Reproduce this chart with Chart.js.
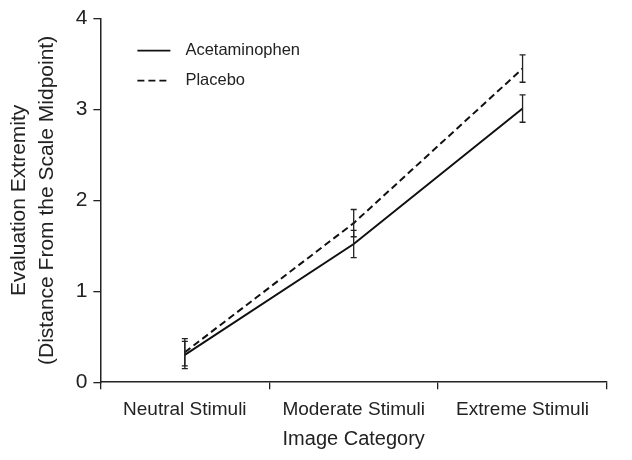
<!DOCTYPE html>
<html>
<head>
<meta charset="utf-8">
<script src="https://cdn.jsdelivr.net/npm/chart.js@4.4.0/dist/chart.umd.min.js"></script>
<style>
  html, body { margin: 0; padding: 0; background: #fff; }
  #wrap { width: 632px; height: 460px; }
</style>
</head>
<body>
<div id="wrap"><canvas id="myChart" width="632" height="460"></canvas></div>
<script>
let categories = ['Neutral Stimuli', 'Moderate Stimuli', 'Extreme Stimuli'];
let acetaminophen = [0.30, 1.52, 3.01];
let acetaminophenErr = [0.15, 0.15, 0.15];
let placebo = [0.33, 1.75, 3.45];
let placeboErr = [0.15, 0.15, 0.15];
let yTicks = [0, 1, 2, 3, 4];

let fontFamily = "'Liberation Sans', Arial, sans-serif";

// error bars, drawn through the y scale
let errorBars = {
    id: 'errorBars',
    afterDatasetsDraw: function (chart) {
        let ctx = chart.ctx;
        let yScale = chart.scales.y;
        chart.data.datasets.forEach((ds, i) => {
            let meta = chart.getDatasetMeta(i);
            meta.data.forEach((pt, j) => {
                let top = yScale.getPixelForValue(ds.data[j] + ds.errors[j]);
                let bot = yScale.getPixelForValue(ds.data[j] - ds.errors[j]);
                ctx.save();
                ctx.strokeStyle = '#222';
                ctx.lineWidth = 1.3;
                ctx.beginPath();
                ctx.moveTo(pt.x, top);
                ctx.lineTo(pt.x, bot);
                ctx.moveTo(pt.x - 3, top);
                ctx.lineTo(pt.x + 3, top);
                ctx.moveTo(pt.x - 3, bot);
                ctx.lineTo(pt.x + 3, bot);
                ctx.stroke();
                ctx.restore();
            });
        });
    }
};

// legend inside the plot, top left
let insideLegend = {
    id: 'insideLegend',
    afterDraw: function (chart) {
        let ctx = chart.ctx;
        let area = chart.chartArea;
        chart.data.datasets.forEach((ds, i) => {
            let y = area.top + 32 + i * 30;
            let x = area.left + 37;
            ctx.save();
            ctx.strokeStyle = '#111';
            ctx.lineWidth = 1.8;
            ctx.setLineDash(ds.borderDash || []);
            ctx.beginPath();
            ctx.moveTo(x, y);
            ctx.lineTo(x + 33, y);
            ctx.stroke();
            ctx.fillStyle = '#222';
            ctx.font = '16.5px ' + fontFamily;
            ctx.textBaseline = 'middle';
            ctx.fillText(ds.label, x + 48, y);
            ctx.restore();
        });
    }
};

let ctx = document.getElementById('myChart').getContext('2d');

let data = {
    labels: categories,
    datasets: [{
        label: 'Acetaminophen',
        data: acetaminophen,
        errors: acetaminophenErr,
        borderColor: '#111',
        borderWidth: 2,
        pointRadius: 0,
        fill: false
    }, {
        label: 'Placebo',
        data: placebo,
        errors: placeboErr,
        borderColor: '#111',
        borderWidth: 2,
        borderDash: [7, 4],
        pointRadius: 0,
        fill: false
    }]
};

let myLineChart = new Chart(ctx, {
    type: 'line',
    data: data,
    options: {
        responsive: false,
        animation: false,
        layout: { padding: { top: 1, right: 25, left: 1, bottom: 5 } },
        plugins: {
            legend: { display: false },
            tooltip: { enabled: false }
        },
        scales: {
            x: {
                offset: true,
                grid: { offset: true, drawOnChartArea: false, tickLength: 7, color: '#222', lineWidth: 1.3 },
                border: { color: '#222', width: 1.5 },
                ticks: { color: '#222', font: { family: fontFamily, size: 19 }, padding: 9, maxRotation: 0 },
                title: { display: true, text: 'Image Category', color: '#222', font: { family: fontFamily, size: 20 }, padding: { top: -3 } }
            },
            y: {
                min: 0,
                max: 4,
                afterBuildTicks: function (axis) {
                    axis.ticks = yTicks.map(v => ({ value: v }));
                },
                grid: { drawOnChartArea: false, tickLength: 7, color: '#222', lineWidth: 1.3 },
                border: { color: '#222', width: 1.5 },
                ticks: { color: '#222', font: { family: fontFamily, size: 21 }, padding: 6 },
                title: {
                    display: true,
                    text: ['Evaluation Extremity', '(Distance From the Scale Midpoint)'],
                    color: '#222',
                    font: { family: fontFamily, size: 21, lineHeight: 1.35 },
                    padding: { bottom: 8 }
                }
            }
        }
    },
    plugins: [errorBars, insideLegend]
});
</script>
</body>
</html>
